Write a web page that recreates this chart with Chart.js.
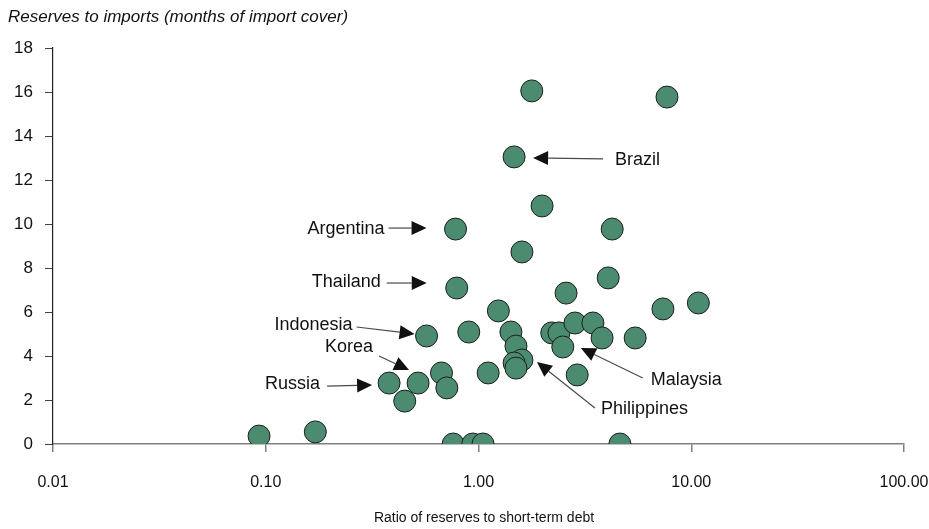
<!DOCTYPE html>
<html>
<head>
<meta charset="utf-8">
<script src="https://cdn.jsdelivr.net/npm/chart.js@4.4.1/dist/chart.umd.min.js"></script>
<style>
  html, body { margin: 0; padding: 0; background: #ffffff; }
  #wrap { width: 929px; height: 529px; }
</style>
</head>
<body>
<div id="wrap"><canvas id="c" width="929" height="529"></canvas></div>
<script>
// Ratio of reserves to short-term debt (x, log scale)
const reserveDebtRatio = [
  0.093, 0.171, 0.76, 0.94, 1.05, 4.62,
  0.78, 0.79, 0.57, 0.52, 0.38, 0.45, 0.67, 0.71,
  0.90, 1.11, 1.24, 1.42, 1.50, 1.60, 1.47, 1.50,
  1.47, 1.78, 1.99, 1.60, 2.58, 2.21, 2.39, 2.49,
  2.84, 3.45, 3.81, 5.45, 2.91, 4.25, 4.07, 7.36, 10.8, 7.69
];
// Reserves to imports, months of import cover (y)
const importCover = [
  0.36, 0.55, 0, 0, 0, 0,
  9.77, 7.09, 4.91, 2.77, 2.77, 1.95, 3.23, 2.55,
  5.09, 3.23, 6.05, 5.09, 4.45, 3.82, 3.68, 3.45,
  13.05, 16.05, 10.82, 8.73, 6.86, 5.05, 5.05, 4.41,
  5.50, 5.50, 4.82, 4.82, 3.14, 9.77, 7.55, 6.14, 6.41, 15.77
];
// X tick values and their labels
const xTickValues = [0.01, 0.1, 1, 10, 100];
const xTickLabels = ['0.01', '0.10', '1.00', '10.00', '100.00'];
// Named economies and the point each one refers to
const calloutNames = ['Argentina', 'Thailand', 'Indonesia', 'Korea', 'Russia', 'Brazil', 'Malaysia', 'Philippines'];
const calloutPoint = [6, 7, 8, 9, 10, 22, 29, 19];

// Arrow geometry relative to the referenced point (pixels):
// tip offset from the point, tail offset from the tip, label offset from the tail
const calloutLayout = {
  Argentina:   { tip: [-29, -1], tail: [-38, 0],  text: [-4, 1],  align: 'right' },
  Thailand:    { tip: [-30, -5], tail: [-40, 0],  text: [-6, -1], align: 'right' },
  Indonesia:   { tip: [-12, -2], tail: [-58, -7], text: [-4, -2], align: 'right' },
  Korea:       { tip: [-9, -13], tail: [-30, -14], text: [-6, -9], align: 'right' },
  Russia:      { tip: [-17, 2],  tail: [-45, 1],  text: [-7, -2], align: 'right' },
  Brazil:      { tip: [19, 1],   tail: [70, 1],   text: [12, 1],  align: 'left' },
  Malaysia:    { tip: [18, 1],   tail: [62, 30],  text: [8, 2],   align: 'left' },
  Philippines: { tip: [15, 2],   tail: [58, 46],  text: [6, 1],   align: 'left' }
};

const FONT = '"Liberation Sans", Arial, Helvetica, sans-serif';

const points = reserveDebtRatio.map((x, i) => ({ x: x, y: importCover[i] }));

function drawArrow(ctx, x0, y0, x1, y1) {
  const ang = Math.atan2(y1 - y0, x1 - x0);
  const headLen = 15, headHalf = 7;
  const bx = x1 - headLen * Math.cos(ang), by = y1 - headLen * Math.sin(ang);
  ctx.strokeStyle = '#4a4a4a';
  ctx.lineWidth = 1.2;
  ctx.beginPath();
  ctx.moveTo(x0, y0);
  ctx.lineTo(bx, by);
  ctx.stroke();
  ctx.fillStyle = '#111111';
  ctx.beginPath();
  ctx.moveTo(x1, y1);
  ctx.lineTo(bx + headHalf * Math.sin(ang), by - headHalf * Math.cos(ang));
  ctx.lineTo(bx - headHalf * Math.sin(ang), by + headHalf * Math.cos(ang));
  ctx.closePath();
  ctx.fill();
}

const calloutPlugin = {
  id: 'callouts',
  afterDatasetsDraw(chart) {
    const ctx = chart.ctx;
    const xs = chart.scales.x, ys = chart.scales.y;
    ctx.save();
    calloutNames.forEach((name, k) => {
      const p = points[calloutPoint[k]];
      const L = calloutLayout[name];
      const px = xs.getPixelForValue(p.x), py = ys.getPixelForValue(p.y);
      const tx = px + L.tip[0], ty = py + L.tip[1];
      const sx = tx + L.tail[0], sy = ty + L.tail[1];
      drawArrow(ctx, sx, sy, tx, ty);
      ctx.fillStyle = '#111111';
      ctx.font = '18px ' + FONT;
      ctx.textAlign = L.align;
      ctx.textBaseline = 'middle';
      ctx.fillText(name, sx + L.text[0], sy + L.text[1]);
    });
    // axis titles
    ctx.fillStyle = '#111111';
    ctx.font = 'italic 17px ' + FONT;
    ctx.textAlign = 'left';
    ctx.textBaseline = 'middle';
    ctx.fillText('Reserves to imports (months of import cover)', 8, 17);
    ctx.font = '14px ' + FONT;
    ctx.textAlign = 'center';
    ctx.fillText('Ratio of reserves to short-term debt', 484, 518);
    ctx.restore();
  }
};

new Chart(document.getElementById('c'), {
  type: 'scatter',
  data: {
    datasets: [{
      data: points,
      backgroundColor: '#4b8b70',
      borderColor: '#1e1e1e',
      borderWidth: 1,
      pointRadius: 11,
      pointHoverRadius: 11
    }]
  },
  options: {
    responsive: false,
    animation: false,
    devicePixelRatio: 1,
    layout: { padding: { top: 48, right: 25, left: 0, bottom: 0 } },
    plugins: { legend: { display: false }, tooltip: { enabled: false }, title: { display: false } },
    scales: {
      x: {
        type: 'logarithmic',
        min: 0.01,
        max: 100,
        afterBuildTicks(scale) { scale.ticks = xTickValues.map(v => ({ value: v })); },
        afterFit(scale) { scale.height = 85; scale.paddingLeft = 0; scale.paddingRight = 0; },
        ticks: {
          autoSkip: false,
          maxRotation: 0,
          padding: 21,
          color: '#111111',
          font: { family: FONT, size: 16 },
          callback(value) {
            const i = xTickValues.indexOf(value);
            return i >= 0 ? xTickLabels[i] : '';
          }
        },
        grid: { drawOnChartArea: false, drawTicks: true, tickLength: 8, color: '#808080', lineWidth: 1.5 },
        border: { display: true, color: '#808080', width: 1.5 }
      },
      y: {
        min: 0,
        max: 18,
        afterFit(scale) { scale.width = 53; scale.paddingTop = 0; scale.paddingBottom = 0; },
        ticks: {
          stepSize: 2,
          padding: 12,
          color: '#111111',
          font: { family: FONT, size: 17 }
        },
        grid: { drawOnChartArea: false, drawTicks: true, tickLength: 8, color: '#444444', lineWidth: 1 },
        border: { display: true, color: '#222222', width: 1.2 }
      }
    }
  },
  plugins: [calloutPlugin]
});
</script>
</body>
</html>
